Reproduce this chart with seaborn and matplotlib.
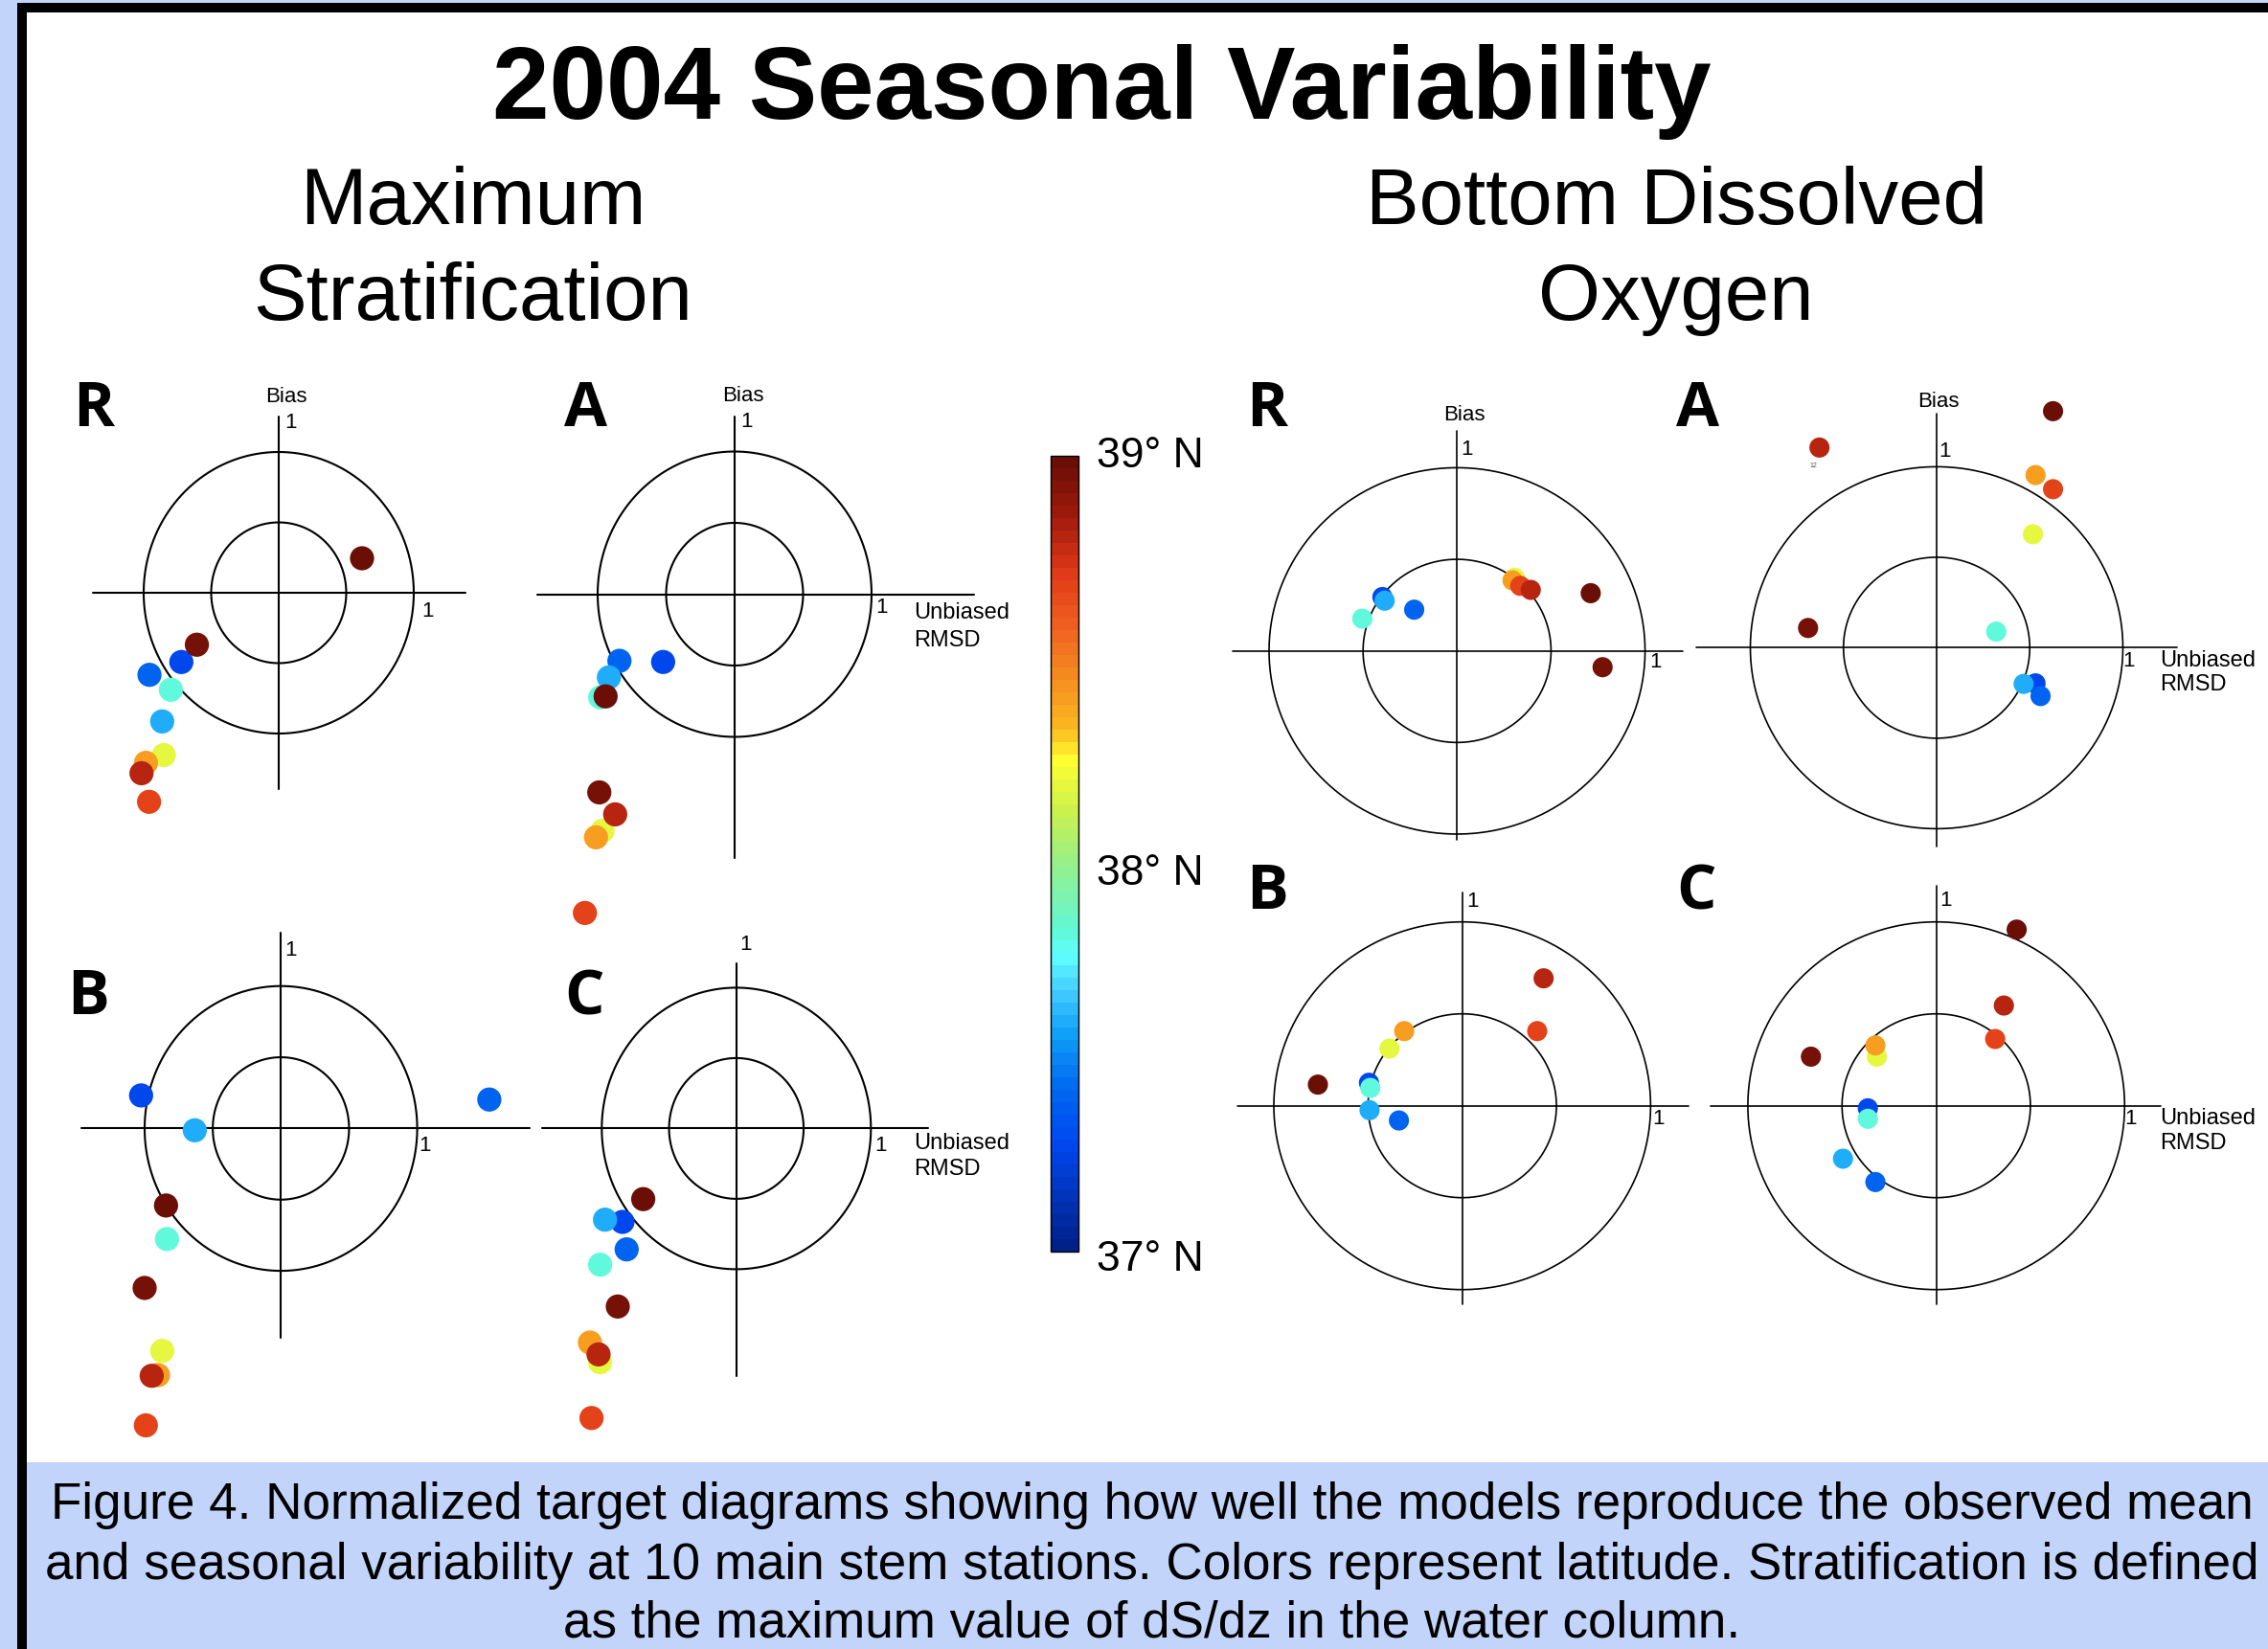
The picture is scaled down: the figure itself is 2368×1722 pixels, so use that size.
import numpy as np
import pandas as pd
import matplotlib
matplotlib.use("Agg")
import matplotlib.pyplot as plt
import seaborn as sns
from matplotlib.colors import LinearSegmentedColormap, Normalize
from matplotlib.patches import Rectangle
from matplotlib.cm import ScalarMappable

# ---------------- data ----------------
# station latitudes (deg N), same station order in every panel
STATION_LAT = [38.99, 38.96, 38.79, 38.66, 38.40, 38.16, 37.80, 37.58, 37.40, 37.26]

# Maximum stratification (normalized unbiased RMSD, normalized bias)
MS_R_X = [0.617, -0.606, -1.016, -0.960, -0.983, -0.851, -0.799, -0.863, -0.957, -0.721]
MS_R_Y = [0.245, -0.369, -1.282, -1.485, -1.208, -1.153, -0.689, -0.914, -0.583, -0.492]
MS_A_X = [-0.942, -0.988, -0.872, -1.093, -1.012, -0.965, -0.981, -0.918, -0.841, -0.522]
MS_A_Y = [-0.716, -1.389, -1.543, -2.234, -1.704, -1.658, -0.723, -0.583, -0.467, -0.475]
MS_B_X = [-0.843, -1.000, -0.948, -0.991, -0.902, -0.871, -0.836, -0.632, 1.529, -1.026]
MS_B_Y = [-0.541, -1.120, -1.737, -2.085, -1.732, -1.562, -0.777, -0.013, 0.203, 0.232]
MS_C_X = [-0.692, -0.881, -1.024, -1.076, -1.088, -1.012, -1.012, -0.976, -0.815, -0.846]
MS_C_Y = [-0.502, -1.265, -1.605, -2.057, -1.521, -1.661, -0.968, -0.648, -0.859, -0.664]

# Bottom dissolved oxygen
DO_R_X = [0.711, 0.774, 0.392, 0.336, 0.295, 0.307, -0.504, -0.385, -0.228, -0.397]
DO_R_Y = [0.315, -0.089, 0.333, 0.355, 0.385, 0.399, 0.176, 0.274, 0.225, 0.294]
DO_A_X = [0.625, -0.690, -0.629, 0.625, 0.531, 0.517, 0.320, 0.467, 0.558, 0.531]
DO_A_Y = [1.307, 0.109, 1.106, 0.876, 0.954, 0.627, 0.089, -0.200, -0.267, -0.197]
DO_B_X = [-0.766, np.nan, 0.432, 0.398, -0.308, -0.386, -0.488, -0.492, -0.336, -0.495]
DO_B_Y = [0.115, np.nan, 0.693, 0.406, 0.406, 0.311, 0.097, -0.024, -0.080, 0.125]
DO_C_X = [0.427, -0.665, 0.359, 0.313, -0.323, -0.315, -0.363, -0.495, -0.323, -0.363]
DO_C_Y = [0.958, 0.267, 0.545, 0.363, 0.328, 0.267, -0.071, -0.288, -0.415, -0.014]

CIRCLE_RADII = [0.5, 1.0]
LAT_RANGE = (37.0, 39.0)
CB_TICKS = [37.47, 37.97, 38.47]
CB_LABELS = ["39° N", "38° N", "37° N"]
CB_LABEL_LAT = [39.0, 37.95, 36.98]

TITLE = "2004 Seasonal Variability"
CAPTION = [
    "Figure 4. Normalized target diagrams showing how well the models reproduce the observed mean",
    "and seasonal variability at 10 main stem stations. Colors represent latitude. Stratification is defined",
    "as the maximum value of dS/dz in the water column.",
]

# ---------------- style ----------------
sns.set_theme(style="white")
plt.rcParams["font.family"] = ["Liberation Sans", "DejaVu Sans"]
plt.rcParams["text.color"] = "black"

W, H, DPI = 2368, 1722, 100
BG = "#C2D4FA"

cmap_pos = [0.0, 0.05, 0.13, 0.20, 0.27, 0.32, 0.37, 0.40, 0.49, 0.55, 0.62, 0.66, 0.72, 0.79, 0.86, 0.93, 1.0]
cmap_col = ["#00208a", "#0030b0", "#0048f0", "#0068f0", "#10a0f8", "#40c8ff", "#60ffff", "#60f8d8",
            "#98f088", "#c8f050", "#ffff30", "#fbb820", "#f59020", "#f06020", "#e03818", "#a01a0c", "#6a0e06"]
CMAP = LinearSegmentedColormap.from_list("lat", list(zip(cmap_pos, cmap_col)), N=64)
NORM = Normalize(*LAT_RANGE)


def px_rect(x0, y0, x1, y1):
    return [x0 / W, 1 - y1 / H, (x1 - x0) / W, (y1 - y0) / H]


def fx(x):
    return x / W


def fy(y):
    return 1 - y / H


fig = plt.figure(figsize=(W / DPI, H / DPI), dpi=DPI, facecolor=BG)

# frame
fig.add_artist(Rectangle((fx(28), fy(1527)), (W - 28) / W, (1527 - 13) / H, transform=fig.transFigure,
                         facecolor="white", edgecolor="none", zorder=-10))
fig.add_artist(Rectangle((fx(18), fy(13)), (W - 18) / W, 10 / H, transform=fig.transFigure,
                         facecolor="black", edgecolor="none", zorder=-9))
fig.add_artist(Rectangle((fx(18), fy(H)), 10 / W, (H - 3) / H, transform=fig.transFigure,
                         facecolor="black", edgecolor="none", zorder=-9))

# titles
fig.text(fx(1150), fy(124), TITLE, ha="center", va="baseline", fontsize=77, fontweight="bold")
fig.text(fx(494), fy(234), "Maximum", ha="center", va="baseline", fontsize=60)
fig.text(fx(494), fy(334), "Stratification", ha="center", va="baseline", fontsize=60)
fig.text(fx(1750), fy(234), "Bottom Dissolved", ha="center", va="baseline", fontsize=60)
fig.text(fx(1750), fy(334), "Oxygen", ha="center", va="baseline", fontsize=60)

PANELS = [
    dict(X=MS_R_X, Y=MS_R_Y, cx=291, cy=619, rx=141, ry=147, xlim=(-1.5, 1.5), ylim=(-1.65, 1.5),
         hl=(-1.378, 1.38), vl=(-1.395, 1.255), top1=(0.087, 1.21), right1=(1.10, -0.13),
         bias=(0.058, 1.394), unb=None, s=330, lw=1.5, letter="R", lpos=(76, 445)),
    dict(X=MS_A_X, Y=MS_A_Y, cx=767, cy=620.5, rx=143, ry=149, xlim=(-1.5, 1.8), ylim=(-2.35, 1.5),
         hl=(-1.443, 1.75), vl=(-1.85, 1.248), top1=(0.084, 1.21), right1=(1.07, -0.096),
         bias=(0.06, 1.39), unb=(1.308, -0.134, -0.326), s=330, lw=1.5, letter="A", lpos=(589, 445)),
    dict(X=MS_B_X, Y=MS_B_Y, cx=293.3, cy=1178.4, rx=142.3, ry=148.7, xlim=(-1.5, 1.85), ylim=(-2.2, 1.4),
         hl=(-1.464, 1.822), vl=(-1.473, 1.377), top1=(0.07, 1.252), right1=(1.059, -0.121),
         bias=None, unb=None, s=330, lw=1.5, letter="B", lpos=(70, 1059)),
    dict(X=MS_C_X, Y=MS_C_Y, cx=768.8, cy=1178.4, rx=140.5, ry=147, xlim=(-1.5, 1.45), ylim=(-2.2, 1.25),
         hl=(-1.444, 1.427), vl=(-1.758, 1.17), top1=(0.068, 1.304), right1=(1.076, -0.123),
         bias=None, unb=(1.32, -0.106, -0.288), s=330, lw=1.5, letter="C", lpos=(589, 1060)),
    dict(X=DO_R_X, Y=DO_R_Y, cx=1521.3, cy=679.7, rx=196.3, ry=191.3, xlim=(-1.25, 1.22), ylim=(-1.1, 1.35),
         hl=(-1.195, 1.202), vl=(-1.03, 1.2), top1=(0.053, 1.099), right1=(1.054, -0.063),
         bias=(0.04, 1.287), unb=None, s=230, lw=1.2, letter="R", lpos=(1301, 445)),
    dict(X=DO_A_X, Y=DO_A_Y, cx=2022, cy=676.4, rx=194.5, ry=189, xlim=(-1.3, 1.3), ylim=(-1.15, 1.4),
         hl=(-1.288, 1.288), vl=(-1.097, 1.295), top1=(0.045, 1.083), right1=(1.03, -0.073),
         bias=(0.01, 1.36), unb=(1.2, -0.073, -0.206), s=230, lw=1.2, letter="A", lpos=(1750, 445)),
    dict(X=DO_B_X, Y=DO_B_Y, cx=1526.7, cy=1154.7, rx=196.7, ry=192, xlim=(-1.25, 1.25), ylim=(-1.12, 1.2),
         hl=(-1.195, 1.2), vl=(-1.078, 1.161), top1=(0.054, 1.109), right1=(1.042, -0.071),
         bias=None, unb=None, s=230, lw=1.2, letter="B", lpos=(1301, 949)),
    dict(X=DO_C_X, Y=DO_C_Y, cx=2021.6, cy=1154.7, rx=196.7, ry=192, xlim=(-1.3, 1.3), ylim=(-1.12, 1.25),
         hl=(-1.196, 1.194), vl=(-1.078, 1.196), top1=(0.052, 1.118), right1=(1.034, -0.071),
         bias=None, unb=(1.188, -0.071, -0.205), s=230, lw=1.2, letter="C", lpos=(1750, 949)),
]

t = np.linspace(0, 2 * np.pi, 500)
for p in PANELS:
    left = p["cx"] + p["xlim"][0] * p["rx"]
    right = p["cx"] + p["xlim"][1] * p["rx"]
    top = p["cy"] - p["ylim"][1] * p["ry"]
    bottom = p["cy"] - p["ylim"][0] * p["ry"]
    ax = fig.add_axes(px_rect(left, top, right, bottom))
    ax.set_xlim(*p["xlim"])
    ax.set_ylim(*p["ylim"])
    ax.set_axis_off()
    ax.patch.set_visible(False)

    for r in CIRCLE_RADII:
        ax.plot(r * np.cos(t), r * np.sin(t), color="black", lw=p["lw"], zorder=2)
    ax.plot(list(p["hl"]), [0, 0], color="black", lw=p["lw"], zorder=2, clip_on=False)
    ax.plot([0, 0], list(p["vl"]), color="black", lw=p["lw"], zorder=2, clip_on=False)

    df = pd.DataFrame({"lat": STATION_LAT, "x": p["X"], "y": p["Y"]}).dropna().sort_values("lat")
    sns.scatterplot(data=df, x="x", y="y", hue="lat", palette=CMAP, hue_norm=NORM, s=p["s"],
                    linewidth=0, legend=False, ax=ax, zorder=3, clip_on=False)
    ax.set_axis_off()

    fs = 16
    ax.text(*p["top1"], "1", ha="center", va="center", fontsize=fs, color="black")
    ax.text(*p["right1"], "1", ha="center", va="center", fontsize=fs, color="black")
    if p["bias"] is not None:
        ax.text(*p["bias"], "Bias", ha="center", va="center", fontsize=fs, color="black")
    if p["unb"] is not None:
        ux, uy1, uy2 = p["unb"]
        ax.text(ux, uy1, "Unbiased", ha="left", va="center", fontsize=fs + 1, color="black")
        ax.text(ux, uy2, "RMSD", ha="left", va="center", fontsize=fs + 1, color="black")

    fig.text(fx(p["lpos"][0]), fy(p["lpos"][1]), p["letter"], ha="left", va="baseline",
             fontsize=47, fontweight="bold", family=["Open Sans", "DejaVu Sans"], color="black")

# tiny point label in DO-A panel
fig.axes[5].text(-0.659, 1.006, "12", ha="center", va="center", fontsize=5, color="#555555")

# colorbar
cax = fig.add_axes(px_rect(1097, 476, 1126, 1307))
cb = fig.colorbar(ScalarMappable(norm=NORM, cmap=CMAP), cax=cax)
cb.outline.set_linewidth(1.0)
cb.outline.set_edgecolor("black")
cb.set_ticks(CB_TICKS)
cax.minorticks_off()
cax.tick_params(which="both", direction="in", length=7, width=1.0, color="black",
                left=True, right=True, labelleft=False, labelright=False)
cb0, cb1 = 476, 1307
for lab, lat in zip(CB_LABELS, CB_LABEL_LAT):
    ypx = cb1 - (lat - LAT_RANGE[0]) / (LAT_RANGE[1] - LAT_RANGE[0]) * (cb1 - cb0)
    fig.text(fx(1145), fy(ypx), lab, ha="left", va="center", fontsize=32, color="black")

# caption
for line, base in zip(CAPTION, [1586, 1649, 1710]):
    fig.text(fx(1203), fy(base), line, ha="center", va="baseline", fontsize=38.2, color="black")

fig.savefig("out.png", dpi=DPI, facecolor=BG)
